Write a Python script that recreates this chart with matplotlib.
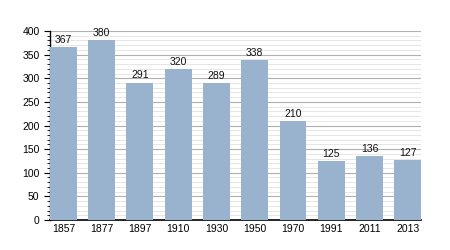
import matplotlib
matplotlib.use("Agg")
import matplotlib.pyplot as plt
from matplotlib.ticker import MultipleLocator

years = ["1857", "1877", "1897", "1910", "1930", "1950", "1970", "1991", "2011", "2013"]
population = [367, 380, 291, 320, 289, 338, 210, 125, 136, 127]

plt.rcParams['font.family'] = ['Liberation Sans', 'DejaVu Sans']

fig = plt.figure(figsize=(4.5, 2.5), dpi=100)
ax = fig.add_axes([0.111, 0.12, 0.825, 0.756])

x = list(range(len(years)))
bars = ax.bar(x, population, width=0.7, color='#99b3cf', zorder=3)
for xi, v in zip(x, population):
    ax.annotate(str(v), (xi, v), xytext=(0, 1.5), textcoords='offset points',
                ha='center', va='bottom', fontsize=7.5, color='#111111', zorder=4)

ax.set_xlim(-0.35, 9.35)
ax.set_ylim(0, 400)
ax.set_xticks(x)
ax.set_xticklabels(years, fontsize=7.5)
ax.yaxis.set_major_locator(MultipleLocator(50))
ax.yaxis.set_minor_locator(MultipleLocator(10))
ax.tick_params(axis='y', labelsize=7.5, length=4, width=0.8, direction='out')
ax.tick_params(axis='y', which='minor', length=2, width=0.6)
ax.tick_params(axis='x', length=0, pad=3)
ax.grid(axis='y', which='major', color='#b0b0b0', linewidth=0.8, zorder=1)
ax.grid(axis='y', which='minor', color='#e2e2e2', linewidth=0.6, zorder=0)
for s in ['top', 'right']:
    ax.spines[s].set_visible(False)
ax.spines['left'].set_linewidth(1.0)
ax.spines['bottom'].set_linewidth(1.2)

fig.savefig("out.png", dpi=100)
